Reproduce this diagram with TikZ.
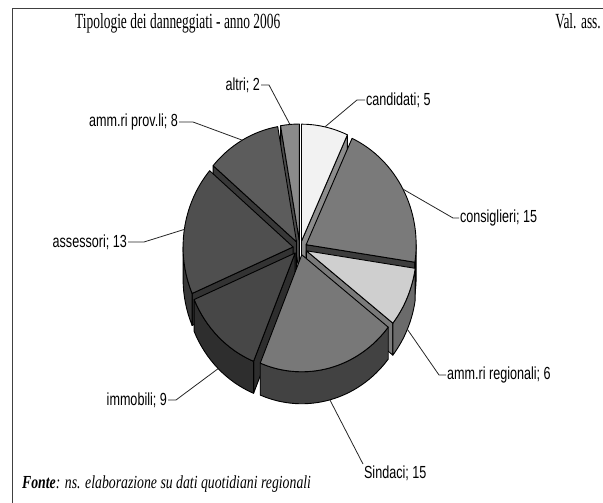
\documentclass[tikz,border=0pt]{standalone}
\usepackage{fontspec}
\setmainfont{Liberation Serif}
\newfontfamily\lblfont{Liberation Sans}

\tikzset{
  rim/.style={x radius=110pt, y radius=117pt},
  slice/.style={draw=black, line width=0.9pt, line join=round},
  lbl/.style={font=\lblfont\fontsize{14}{16}\selectfont, inner sep=1pt, xscale=0.9, yscale=1.25},
  lead/.style={draw=black!85, line width=0.8pt},
  ttl/.style={font=\fontsize{16}{18}\selectfont, inner sep=0pt, xscale=0.84, yscale=1.35},
  src/.style={font=\itshape\fontsize{16}{18}\selectfont, inner sep=0pt, xscale=0.86, yscale=1.15},
  boxline/.style={draw=black!75, line width=1.4pt},
}

\begin{document}
\begin{tikzpicture}[x=1pt, y=1pt]
    \useasboundingbox (0,0) rectangle (603,503);
    \draw[boxline] (12.5,0) -- (12.5,494.5) -- (603,494.5);

    \node[ttl, anchor=base west] (title) at (75,474) {Tipologie dei danneggiati - anno 2006};
    \node[ttl, anchor=base east] (unit) at (601,474) {Val. ass.};
    \node[src, anchor=base west] (fonte) at (22,14) {\textbf{Fonte}: ns. elaborazione su dati quotidiani regionali};

    \coordinate (C) at (300,255);

    % altri; 2
    \begin{scope}[shift={(C)}, shift={(94.93:7pt)}]
        \filldraw[slice, fill=black!70] (0,0) -- (99.86:110pt and 117pt) -- ++(0,-32pt) -- (0,-32pt) -- cycle;
        \filldraw[slice, fill=black!46] (0,0) -- (90:110pt and 117pt) arc[rim, start angle=90, end angle=99.86] -- cycle;
        \coordinate (pAltri) at (94.93:110pt and 117pt);
    \end{scope}

    % candidati; 5
    \begin{scope}[shift={(C)}, shift={(77.67:7pt)}]
        \filldraw[slice, fill=black!45] (0,0) -- (65.34:110pt and 117pt) -- ++(0,-32pt) -- (0,-32pt) -- cycle;
        \filldraw[slice, fill=black!5] (0,0) -- (65.34:110pt and 117pt) arc[rim, start angle=65.34, end angle=90] -- cycle;
        \coordinate (pCand) at (77.67:110pt and 117pt);
    \end{scope}

    % amm.ri prov.li; 8
    \begin{scope}[shift={(C)}, shift={(119.59:7pt)}]
        \filldraw[slice, fill=black!78] (0,0) -- (139.32:110pt and 117pt) -- ++(0,-32pt) -- (0,-32pt) -- cycle;
        \filldraw[slice, fill=black!64] (0,0) -- (99.86:110pt and 117pt) arc[rim, start angle=99.86, end angle=139.32] -- cycle;
        \coordinate (pProv) at (119.59:110pt and 117pt);
    \end{scope}

    % consiglieri; 15
    \begin{scope}[shift={(C)}, shift={(28.36:7pt)}]
        \filldraw[slice, fill=black!76] (0,0) -- (351.37:110pt and 117pt) -- ++(0,-32pt) -- (0,-32pt) -- cycle;
        \filldraw[slice, fill=black!70] (351.37:110pt and 117pt) arc[rim, start angle=351.37, end angle=360] -- ++(0,-32pt) arc[rim, start angle=360, end angle=351.37] -- cycle;
        \filldraw[slice, fill=black!52] (0,0) -- (351.37:110pt and 117pt) arc[rim, start angle=351.37, end angle=425.34] -- cycle;
        \coordinate (pCons) at (28.36:110pt and 117pt);
    \end{scope}

    % assessori; 13
    \begin{scope}[shift={(C)}, shift={(171.38:7pt)}]
        \filldraw[slice, fill=black!80] (0,0) -- (203.43:110pt and 117pt) -- ++(0,-32pt) -- (0,-32pt) -- cycle;
        \filldraw[slice, fill=black!78] (180:110pt and 117pt) arc[rim, start angle=180, end angle=203.43] -- ++(0,-32pt) arc[rim, start angle=203.43, end angle=180] -- cycle;
        \filldraw[slice, fill=black!69] (0,0) -- (139.32:110pt and 117pt) arc[rim, start angle=139.32, end angle=203.43] -- cycle;
        \coordinate (pAss) at (171.38:110pt and 117pt);
    \end{scope}

    % amm.ri regionali; 6
    \begin{scope}[shift={(C)}, shift={(336.58:7pt)}]
        \filldraw[slice, fill=black!52] (0,0) -- (321.78:110pt and 117pt) -- ++(0,-32pt) -- (0,-32pt) -- cycle;
        \filldraw[slice, fill=black!58] (321.78:110pt and 117pt) arc[rim, start angle=321.78, end angle=351.37] -- ++(0,-32pt) arc[rim, start angle=351.37, end angle=321.78] -- cycle;
        \filldraw[slice, fill=black!19] (0,0) -- (321.78:110pt and 117pt) arc[rim, start angle=321.78, end angle=351.37] -- cycle;
        \coordinate (pReg) at ([yshift=-32pt]336.58:110pt and 117pt);
    \end{scope}

    % immobili; 9
    \begin{scope}[shift={(C)}, shift={(225.62:7pt)}]
        \filldraw[slice, fill=black!82] (0,0) -- (247.81:110pt and 117pt) -- ++(0,-32pt) -- (0,-32pt) -- cycle;
        \filldraw[slice, fill=black!82] (203.43:110pt and 117pt) arc[rim, start angle=203.43, end angle=247.81] -- ++(0,-32pt) arc[rim, start angle=247.81, end angle=203.43] -- cycle;
        \filldraw[slice, fill=black!72] (0,0) -- (203.43:110pt and 117pt) arc[rim, start angle=203.43, end angle=247.81] -- cycle;
        \coordinate (pImm) at ([yshift=-32pt]225.62:110pt and 117pt);
    \end{scope}

    % Sindaci; 15
    \begin{scope}[shift={(C)}, shift={(284.8:7pt)}]
        \filldraw[slice, fill=black!74] (247.81:110pt and 117pt) arc[rim, start angle=247.81, end angle=321.78] -- ++(0,-32pt) arc[rim, start angle=321.78, end angle=247.81] -- cycle;
        \filldraw[slice, fill=black!53] (0,0) -- (247.81:110pt and 117pt) arc[rim, start angle=247.81, end angle=321.78] -- cycle;
        \coordinate (pSind) at ([yshift=-32pt]284.8:110pt and 117pt);
    \end{scope}

    % labels
    \node[lbl, anchor=east] (lAltri) at (261,418) {altri; 2};
    \node[lbl, anchor=west] (lCand) at (365,403) {candidati; 5};
    \node[lbl, anchor=east] (lProv) at (179,381) {amm.ri prov.li; 8};
    \node[lbl, anchor=east] (lAss) at (128,261) {assessori; 13};
    \node[lbl, anchor=west] (lCons) at (459,285) {consiglieri; 15};
    \node[lbl, anchor=west] (lReg) at (446,128) {amm.ri regionali; 6};
    \node[lbl, anchor=east] (lImm) at (168,103) {immobili; 9};
    \node[lbl, anchor=west] (lSind) at (363,30) {Sindaci; 15};

    \draw[lead] (lAltri.east) -- ++(8,0) -- (pAltri);
    \draw[lead] (lCand.west) -- ++(-8,0) -- (pCand);
    \draw[lead] (lProv.east) -- ++(14,0) -- (pProv);
    \draw[lead] (lAss.east) -- ++(16,0) -- (pAss);
    \draw[lead] (lCons.west) -- ++(-6,0) -- (pCons);
    \draw[lead] (lReg.west) -- ++(-7,0) -- (pReg);
    \draw[lead] (lImm.east) -- ++(8,0) -- (pImm);
    \draw[lead] (lSind.north west) -- (pSind);
\end{tikzpicture}
\end{document}
